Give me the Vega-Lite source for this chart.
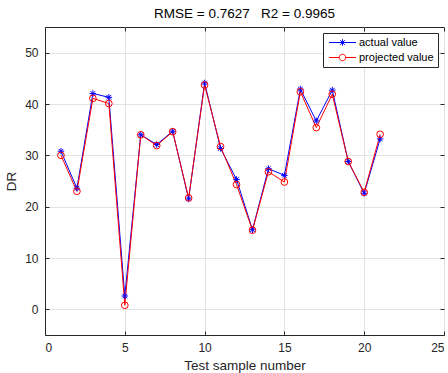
{
  "$schema": "https://vega.github.io/schema/vega-lite/v6.json",
  "autosize": "none",
  "padding": {"left": 45, "top": 27, "right": 4, "bottom": 38},
  "width": 399,
  "height": 308,
  "background": "white",
  "title": {
    "text": "RMSE = 0.7627\u00a0\u00a0\u00a0R2 = 0.9965",
    "font": "Liberation Sans",
    "fontSize": 13.5,
    "fontWeight": "normal",
    "color": "#000000",
    "offset": 6
  },
  "data": {
    "values": [
      {"n": 1, "value": 30.8, "series": "actual value"},
      {"n": 2, "value": 23.6, "series": "actual value"},
      {"n": 3, "value": 42.05, "series": "actual value"},
      {"n": 4, "value": 41.3, "series": "actual value"},
      {"n": 5, "value": 2.6, "series": "actual value"},
      {"n": 6, "value": 34.0, "series": "actual value"},
      {"n": 7, "value": 32.1, "series": "actual value"},
      {"n": 8, "value": 34.7, "series": "actual value"},
      {"n": 9, "value": 21.5, "series": "actual value"},
      {"n": 10, "value": 44.1, "series": "actual value"},
      {"n": 11, "value": 31.35, "series": "actual value"},
      {"n": 12, "value": 25.3, "series": "actual value"},
      {"n": 13, "value": 15.5, "series": "actual value"},
      {"n": 14, "value": 27.4, "series": "actual value"},
      {"n": 15, "value": 26.1, "series": "actual value"},
      {"n": 16, "value": 42.9, "series": "actual value"},
      {"n": 17, "value": 36.7, "series": "actual value"},
      {"n": 18, "value": 42.7, "series": "actual value"},
      {"n": 19, "value": 28.8, "series": "actual value"},
      {"n": 20, "value": 22.6, "series": "actual value"},
      {"n": 21, "value": 33.2, "series": "actual value"},
      {"n": 1, "value": 30.0, "series": "projected value"},
      {"n": 2, "value": 23.0, "series": "projected value"},
      {"n": 3, "value": 41.1, "series": "projected value"},
      {"n": 4, "value": 40.1, "series": "projected value"},
      {"n": 5, "value": 0.8, "series": "projected value"},
      {"n": 6, "value": 34.0, "series": "projected value"},
      {"n": 7, "value": 31.9, "series": "projected value"},
      {"n": 8, "value": 34.6, "series": "projected value"},
      {"n": 9, "value": 21.7, "series": "projected value"},
      {"n": 10, "value": 43.7, "series": "projected value"},
      {"n": 11, "value": 31.7, "series": "projected value"},
      {"n": 12, "value": 24.3, "series": "projected value"},
      {"n": 13, "value": 15.4, "series": "projected value"},
      {"n": 14, "value": 26.8, "series": "projected value"},
      {"n": 15, "value": 24.8, "series": "projected value"},
      {"n": 16, "value": 42.4, "series": "projected value"},
      {"n": 17, "value": 35.4, "series": "projected value"},
      {"n": 18, "value": 41.9, "series": "projected value"},
      {"n": 19, "value": 28.8, "series": "projected value"},
      {"n": 20, "value": 22.8, "series": "projected value"},
      {"n": 21, "value": 34.1, "series": "projected value"}
    ]
  },
  "layer": [
    {
      "mark": {"type": "line", "strokeWidth": 1},
      "encoding": {
        "x": {
          "field": "n", "type": "quantitative",
          "scale": {"domain": [0, 25], "nice": false, "zero": false},
          "axis": {"orient": "bottom", "title": "Test sample number", "values": [0, 5, 10, 15, 20, 25], "grid": true, "labelPadding": 11, "titlePadding": 5}
        },
        "y": {
          "field": "value", "type": "quantitative",
          "scale": {"domain": [-5, 55], "nice": false, "zero": false},
          "axis": {"orient": "left", "title": "DR", "values": [0, 10, 20, 30, 40, 50], "grid": true, "labelPadding": 11, "titlePadding": 6}
        },
        "color": {
          "field": "series", "type": "nominal",
          "scale": {"domain": ["actual value", "projected value"], "range": ["#0000ff", "#ff0000"]},
          "legend": {
            "title": null,
            "orient": "top-right",
            "offset": 6,
            "strokeColor": "#262626",
            "fillColor": "white",
            "padding": 4,
            "labelFont": "Liberation Sans",
            "labelFontSize": 11,
            "labelColor": "#000000",
            "labelOffset": 11,
            "symbolSize": 36,
            "symbolOffset": 10,
            "symbolStrokeWidth": 1,
            "rowPadding": 3,
            "encode": {
              "symbols": {
                "update": {
                  "shape": {"signal": "datum.value == 'actual value' ? 'M-4.5,0L4.5,0M0,-1.08L0,1.08M-1.08,0L1.08,0M-0.76,-0.76L0.76,0.76M-0.76,0.76L0.76,-0.76' : 'M-4.5,0L-1.08,0M1.08,0L4.5,0M1.08,0A1.08,1.08 0 1,1 -1.08,0A1.08,1.08 0 1,1 1.08,0'"},
                  "fill": {"value": "transparent"},
                  "strokeWidth": {"value": 1}
                }
              }
            }
          }
        }
      }
    },
    {
      "transform": [{"filter": "datum.series == 'actual value'"}],
      "mark": {"type": "point", "shape": "M0,-1L0,1M-1,0L1,0M-0.7,-0.7L0.7,0.7M-0.7,0.7L0.7,-0.7", "filled": false, "stroke": "#0000ff", "strokeWidth": 1, "size": 42, "opacity": 1},
      "encoding": {
        "x": {"field": "n", "type": "quantitative", "axis": null},
        "y": {"field": "value", "type": "quantitative", "axis": null}
      }
    },
    {
      "transform": [{"filter": "datum.series == 'projected value'"}],
      "mark": {"type": "point", "shape": "circle", "filled": false, "stroke": "#ff0000", "strokeWidth": 1, "size": 45, "opacity": 1},
      "encoding": {
        "x": {"field": "n", "type": "quantitative", "axis": {"orient": "top", "labels": false, "title": null, "grid": false, "values": [0, 5, 10, 15, 20, 25], "domain": false}},
        "y": {"field": "value", "type": "quantitative", "axis": {"orient": "right", "labels": false, "title": null, "grid": false, "values": [0, 10, 20, 30, 40, 50], "domain": false}}
      }
    }
  ],
  "resolve": {"axis": {"x": "independent", "y": "independent"}},
  "config": {
    "view": {"stroke": "#262626", "strokeWidth": 1},
    "axis": {
      "labelFont": "Liberation Sans",
      "labelFontSize": 12,
      "labelColor": "#262626",
      "titleFont": "Liberation Sans",
      "titleFontSize": 13.5,
      "titleFontWeight": "normal",
      "titleColor": "#262626",
      "domainColor": "#262626",
      "tickColor": "#262626",
      "tickSize": -4,
      "gridColor": "#e3e3e3",
      "gridOpacity": 1
    }
  }
}
